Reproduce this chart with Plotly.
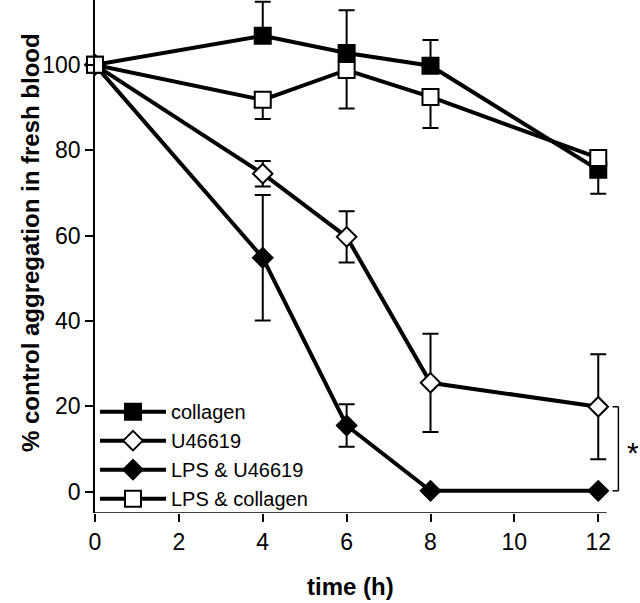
import plotly.graph_objects as go

time_h = [0, 4, 6, 8, 12]
collagen = [100, 106.8, 102.8, 99.8, 75.4]
collagen_err_up = [0, 8, 10, 6, 0]
collagen_err_dn = [0, 0, 0, 0, 5.6]
u46619 = [100, 74.5, 59.7, 25.5, 19.9]
u46619_err = [0, 3, 6, 11.5, 12.3]
lps_u46619 = [100, 54.8, 15.5, 0.2, 0.2]
lps_u46619_err = [0, 14.7, 5, 0, 0]
lps_collagen = [100, 91.8, 98.8, 92.5, 78.2]
lps_collagen_err_up = [0, 0, 0, 0, 0]
lps_collagen_err_dn = [0, 4.5, 9, 7.3, 0]
x_ticks = [0, 2, 4, 6, 8, 10, 12]
y_ticks = [0, 20, 40, 60, 80, 100]

X_AXIS_END = 12.2
Y_MIN, Y_MAX = -5, 115.2

FONT = "Liberation Sans, Arial, sans-serif"
fig = go.Figure()

def add(name, y, up, dn, symbol, fill, size):
    fig.add_trace(go.Scatter(
        x=time_h, y=y, name=name, mode="lines+markers",
        line=dict(color="black", width=4),
        marker=dict(symbol=symbol, size=size, color=fill,
                    line=dict(color="black", width=2)),
        error_y=dict(type="data", array=up, arrayminus=dn, symmetric=False,
                     color="black", thickness=2, width=8),
        cliponaxis=False,
    ))

add("collagen", collagen, collagen_err_up, collagen_err_dn, "square", "black", 16)
add("U46619", u46619, u46619_err, u46619_err, "diamond", "white", 15)
add("LPS & U46619", lps_u46619, lps_u46619_err, lps_u46619_err, "diamond", "black", 15)
add("LPS & collagen", lps_collagen, lps_collagen_err_up, lps_collagen_err_dn, "square", "white", 16)

# bottom axis line (only up to 12.2, the plot area extends further for the bracket)
fig.add_shape(type="line", x0=0, x1=X_AXIS_END, y0=Y_MIN, y1=Y_MIN,
              line=dict(color="black", width=1.5))

# significance bracket between the two U46619 groups at 12 h
xb = time_h[-1] + 0.48
y_top = u46619[-1]
y_bot = lps_u46619[-1]
fig.add_shape(type="line", x0=xb, x1=xb, y0=y_bot, y1=y_top,
              line=dict(color="black", width=1.5))
for yy in (y_top, y_bot):
    fig.add_shape(type="line", x0=xb - 0.14, x1=xb, y0=yy, y1=yy,
                  line=dict(color="black", width=1.5))
fig.add_annotation(x=xb + 0.35, y=(y_top + y_bot) / 2, text="*", showarrow=False,
                   yshift=-4, font=dict(size=30, color="black", family=FONT))

# axis titles
fig.add_annotation(x=X_AXIS_END / 2, xref="x", y=0, yref="paper", yshift=-89,
                   text="<b>time (h)</b>", showarrow=False,
                   font=dict(size=24, family=FONT, color="black"))
fig.add_annotation(x=0, xref="paper", xshift=-80, y=0.5, yref="paper", yshift=14,
                   text="<b>% control aggregation in fresh blood</b>", textangle=-90,
                   showarrow=False, font=dict(size=24, family=FONT, color="black"))

fig.update_layout(
    width=640, height=603,
    margin=dict(l=95, r=4, t=0, b=90),
    paper_bgcolor="white", plot_bgcolor="white",
    font=dict(family=FONT, size=22, color="black"),
    showlegend=True,
    legend=dict(x=0.0, y=-0.01, xanchor="left", yanchor="bottom",
                bgcolor="rgba(0,0,0,0)", font=dict(size=20),
                tracegroupgap=0, itemwidth=66),
    xaxis=dict(range=[0, 12.9], tickvals=x_ticks, showgrid=False, zeroline=False,
               showline=False, automargin=False,
               ticks="outside", ticklen=8, tickwidth=1.5, tickcolor="black",
               tickfont=dict(size=23)),
    yaxis=dict(range=[Y_MIN, Y_MAX], tickvals=y_ticks, showgrid=False, zeroline=False,
               showline=True, linecolor="black", linewidth=1.5, automargin=False,
               ticks="outside", ticklen=8, tickwidth=1.5, tickcolor="black",
               tickfont=dict(size=23)),
)

fig.write_html("out.html", config={"displayModeBar": False},
               post_script="document.body.style.margin='0';")
